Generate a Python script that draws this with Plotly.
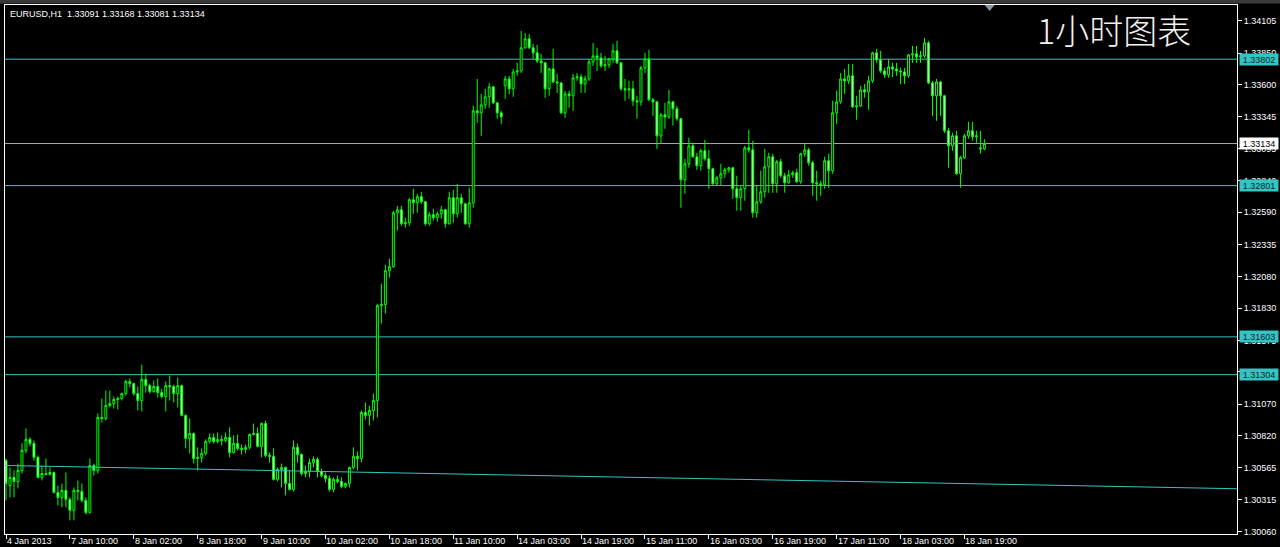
import plotly.graph_objects as go

# ---------------- data (EURUSD H1) ----------------
opens = [
    1.30624, 1.30426, 1.30490, 1.30458, 1.30545, 1.30704, 1.30791, 1.30759, 1.30649, 1.30490,
    1.30521, 1.30513, 1.30529, 1.30371, 1.30332, 1.30387, 1.30316, 1.30229, 1.30387, 1.30379,
    1.30308, 1.30213, 1.30584, 1.30545, 1.30965, 1.30957, 1.31059, 1.31075, 1.31107, 1.31115,
    1.31154, 1.31249, 1.31233, 1.31154, 1.31099, 1.31265, 1.31217, 1.31170, 1.31210, 1.31162,
    1.31131, 1.31217, 1.31210, 1.31154, 1.31217, 1.30981, 1.30799, 1.30838, 1.30640, 1.30649,
    1.30680, 1.30775, 1.30807, 1.30775, 1.30791, 1.30783, 1.30807, 1.30688, 1.30759, 1.30720,
    1.30712, 1.30728, 1.30830, 1.30838, 1.30736, 1.30917, 1.30664, 1.30657, 1.30474, 1.30553,
    1.30569, 1.30442, 1.30395, 1.30728, 1.30672, 1.30521, 1.30537, 1.30608, 1.30632, 1.30537,
    1.30505, 1.30482, 1.30395, 1.30474, 1.30458, 1.30419, 1.30442, 1.30569, 1.30657, 1.30640,
    1.31004, 1.30981, 1.31020, 1.31099, 1.31850, 1.31858, 1.32127, 1.32159, 1.32586, 1.32610,
    1.32499, 1.32507, 1.32689, 1.32665, 1.32713, 1.32673, 1.32499, 1.32570, 1.32547, 1.32578,
    1.32610, 1.32499, 1.32705, 1.32578, 1.32705, 1.32657, 1.32499, 1.32665, 1.33393, 1.33377,
    1.33440, 1.33504, 1.33583, 1.33456, 1.33377, 1.33591, 1.33646, 1.33567, 1.33701, 1.33709,
    1.33892, 1.33963, 1.33892, 1.33852, 1.33788, 1.33773, 1.33567, 1.33725, 1.33622, 1.33614,
    1.33377, 1.33527, 1.33512, 1.33654, 1.33662, 1.33606, 1.33646, 1.33781, 1.33828, 1.33812,
    1.33749, 1.33757, 1.33804, 1.33868, 1.33773, 1.33567, 1.33559, 1.33567, 1.33472, 1.33464,
    1.33733, 1.33804, 1.33480, 1.33464, 1.33195, 1.33361, 1.33345, 1.33464, 1.33409, 1.33330,
    1.32847, 1.32974, 1.33116, 1.33029, 1.32958, 1.33077, 1.33013, 1.32934, 1.32815, 1.32863,
    1.32895, 1.32926, 1.32942, 1.32776, 1.32705, 1.32776, 1.33100, 1.33084, 1.32586, 1.32673,
    1.32752, 1.32950, 1.33029, 1.32815, 1.32990, 1.32879, 1.32823, 1.32887, 1.32903, 1.32831,
    1.33053, 1.33084, 1.32982, 1.32823, 1.32815, 1.32807, 1.32997, 1.32918, 1.33377, 1.33464,
    1.33646, 1.33630, 1.33670, 1.33424, 1.33432, 1.33559, 1.33543, 1.33630, 1.33852, 1.33796,
    1.33709, 1.33678, 1.33741, 1.33725, 1.33709, 1.33701, 1.33670, 1.33836, 1.33844, 1.33820,
    1.33828, 1.33931, 1.33614, 1.33512, 1.33622, 1.33512, 1.33235, 1.33116, 1.33195, 1.32895,
    1.33021, 1.33195, 1.33235, 1.33188, 1.33100, 1.33091,
]
highs = [
    1.30640, 1.30569, 1.30545, 1.30600, 1.30759, 1.30878, 1.30807, 1.30783, 1.30664, 1.30584,
    1.30640, 1.30569, 1.30537, 1.30426, 1.30442, 1.30529, 1.30332, 1.30411, 1.30466, 1.30442,
    1.30332, 1.30640, 1.30600, 1.30996, 1.31115, 1.31178, 1.31178, 1.31131, 1.31131, 1.31162,
    1.31265, 1.31273, 1.31241, 1.31210, 1.31383, 1.31312, 1.31233, 1.31257, 1.31273, 1.31194,
    1.31249, 1.31296, 1.31225, 1.31281, 1.31225, 1.30989, 1.30957, 1.30846, 1.30728, 1.30720,
    1.30791, 1.30838, 1.30838, 1.30846, 1.30823, 1.30846, 1.30886, 1.30823, 1.30830, 1.30751,
    1.30751, 1.30838, 1.30917, 1.30886, 1.30925, 1.30941, 1.30688, 1.30720, 1.30569, 1.30600,
    1.30576, 1.30545, 1.30783, 1.30759, 1.30680, 1.30584, 1.30640, 1.30657, 1.30649, 1.30561,
    1.30529, 1.30505, 1.30490, 1.30505, 1.30490, 1.30450, 1.30576, 1.30728, 1.30696, 1.31020,
    1.31083, 1.31059, 1.31154, 1.31866, 1.32024, 1.32175, 1.32222, 1.32602, 1.32641, 1.32641,
    1.32547, 1.32705, 1.32776, 1.32736, 1.32752, 1.32681, 1.32594, 1.32618, 1.32594, 1.32641,
    1.32618, 1.32752, 1.32768, 1.32815, 1.32736, 1.32665, 1.32784, 1.33432, 1.33646, 1.33527,
    1.33567, 1.33614, 1.33591, 1.33464, 1.33393, 1.33670, 1.33670, 1.33725, 1.33773, 1.34026,
    1.34010, 1.34002, 1.33923, 1.33915, 1.33844, 1.33780, 1.33733, 1.33884, 1.33686, 1.33622,
    1.33551, 1.33551, 1.33686, 1.33693, 1.33686, 1.33670, 1.33804, 1.33931, 1.33892, 1.33852,
    1.33828, 1.33812, 1.33923, 1.33947, 1.33780, 1.33646, 1.33630, 1.33630, 1.33512, 1.33749,
    1.33852, 1.33876, 1.33496, 1.33472, 1.33377, 1.33456, 1.33559, 1.33472, 1.33432, 1.33337,
    1.33013, 1.33180, 1.33140, 1.33061, 1.33092, 1.33164, 1.33084, 1.32942, 1.32879, 1.32974,
    1.32942, 1.32950, 1.32950, 1.32879, 1.32799, 1.33116, 1.33243, 1.33156, 1.32799, 1.32918,
    1.33092, 1.33061, 1.33053, 1.33005, 1.33013, 1.32903, 1.32926, 1.32918, 1.32934, 1.33061,
    1.33132, 1.33100, 1.32997, 1.32918, 1.32839, 1.33029, 1.33053, 1.33472, 1.33551, 1.33693,
    1.33725, 1.33765, 1.33765, 1.33512, 1.33591, 1.33606, 1.33670, 1.33860, 1.33884, 1.33868,
    1.33733, 1.33804, 1.33773, 1.33773, 1.33733, 1.33733, 1.33844, 1.33907, 1.33907, 1.33868,
    1.33970, 1.33947, 1.33630, 1.33646, 1.33630, 1.33520, 1.33259, 1.33219, 1.33235, 1.33037,
    1.33211, 1.33306, 1.33306, 1.33235, 1.33235, 1.33168,
]
lows = [
    1.30308, 1.30332, 1.30332, 1.30403, 1.30521, 1.30680, 1.30736, 1.30624, 1.30482, 1.30466,
    1.30505, 1.30505, 1.30363, 1.30268, 1.30253, 1.30253, 1.30150, 1.30150, 1.30308, 1.30292,
    1.30197, 1.30205, 1.30505, 1.30521, 1.30925, 1.30941, 1.31044, 1.31036, 1.31028, 1.31099,
    1.31138, 1.31202, 1.31138, 1.31020, 1.31012, 1.31162, 1.31154, 1.31162, 1.31123, 1.31115,
    1.31012, 1.31099, 1.31083, 1.31044, 1.30973, 1.30720, 1.30680, 1.30600, 1.30545, 1.30608,
    1.30664, 1.30759, 1.30759, 1.30759, 1.30744, 1.30767, 1.30649, 1.30680, 1.30704, 1.30672,
    1.30680, 1.30712, 1.30823, 1.30728, 1.30649, 1.30649, 1.30608, 1.30466, 1.30458, 1.30411,
    1.30348, 1.30387, 1.30379, 1.30608, 1.30505, 1.30490, 1.30490, 1.30569, 1.30490, 1.30490,
    1.30450, 1.30379, 1.30371, 1.30442, 1.30403, 1.30403, 1.30411, 1.30553, 1.30545, 1.30608,
    1.30949, 1.30901, 1.30941, 1.30965, 1.31708, 1.31787, 1.32072, 1.32151, 1.32444, 1.32483,
    1.32468, 1.32483, 1.32578, 1.32586, 1.32657, 1.32483, 1.32483, 1.32523, 1.32515, 1.32539,
    1.32468, 1.32491, 1.32507, 1.32547, 1.32586, 1.32491, 1.32468, 1.32626, 1.33298, 1.33195,
    1.33409, 1.33417, 1.33448, 1.33330, 1.33290, 1.33488, 1.33527, 1.33504, 1.33670, 1.33693,
    1.33884, 1.33884, 1.33804, 1.33773, 1.33693, 1.33496, 1.33512, 1.33614, 1.33535, 1.33369,
    1.33337, 1.33417, 1.33393, 1.33630, 1.33535, 1.33535, 1.33630, 1.33749, 1.33709, 1.33733,
    1.33709, 1.33733, 1.33773, 1.33765, 1.33551, 1.33472, 1.33488, 1.33432, 1.33330, 1.33432,
    1.33693, 1.33472, 1.33353, 1.33092, 1.33132, 1.33251, 1.33330, 1.33275, 1.33314, 1.32626,
    1.32736, 1.32942, 1.33021, 1.32926, 1.32918, 1.32997, 1.32776, 1.32807, 1.32799, 1.32799,
    1.32863, 1.32903, 1.32697, 1.32602, 1.32602, 1.32681, 1.33061, 1.32547, 1.32547, 1.32657,
    1.32705, 1.32744, 1.32744, 1.32744, 1.32863, 1.32744, 1.32815, 1.32863, 1.32823, 1.32815,
    1.33029, 1.32958, 1.32720, 1.32681, 1.32720, 1.32776, 1.32784, 1.32895, 1.33290, 1.33448,
    1.33527, 1.33606, 1.33417, 1.33322, 1.33424, 1.33496, 1.33401, 1.33614, 1.33773, 1.33693,
    1.33654, 1.33654, 1.33662, 1.33670, 1.33606, 1.33606, 1.33654, 1.33773, 1.33773, 1.33773,
    1.33812, 1.33606, 1.33353, 1.33314, 1.33353, 1.33219, 1.32942, 1.33077, 1.32887, 1.32784,
    1.33013, 1.33172, 1.33156, 1.33140, 1.33053, 1.33081,
]
closes = [
    1.30442, 1.30490, 1.30458, 1.30545, 1.30704, 1.30791, 1.30759, 1.30649, 1.30490, 1.30521,
    1.30513, 1.30529, 1.30371, 1.30332, 1.30387, 1.30316, 1.30229, 1.30387, 1.30379, 1.30308,
    1.30213, 1.30584, 1.30545, 1.30965, 1.30957, 1.31059, 1.31075, 1.31107, 1.31115, 1.31154,
    1.31249, 1.31233, 1.31154, 1.31099, 1.31265, 1.31217, 1.31170, 1.31210, 1.31162, 1.31131,
    1.31217, 1.31210, 1.31154, 1.31217, 1.30981, 1.30799, 1.30838, 1.30640, 1.30649, 1.30680,
    1.30775, 1.30807, 1.30775, 1.30791, 1.30783, 1.30807, 1.30688, 1.30759, 1.30720, 1.30712,
    1.30728, 1.30830, 1.30838, 1.30736, 1.30917, 1.30664, 1.30657, 1.30474, 1.30553, 1.30569,
    1.30442, 1.30395, 1.30728, 1.30672, 1.30521, 1.30537, 1.30608, 1.30632, 1.30537, 1.30505,
    1.30482, 1.30395, 1.30474, 1.30458, 1.30419, 1.30442, 1.30569, 1.30657, 1.30640, 1.31004,
    1.30981, 1.31020, 1.31099, 1.31850, 1.31858, 1.32127, 1.32159, 1.32586, 1.32610, 1.32499,
    1.32507, 1.32689, 1.32665, 1.32713, 1.32673, 1.32499, 1.32570, 1.32547, 1.32578, 1.32610,
    1.32499, 1.32705, 1.32578, 1.32705, 1.32657, 1.32499, 1.32665, 1.33393, 1.33377, 1.33440,
    1.33504, 1.33583, 1.33456, 1.33377, 1.33345, 1.33646, 1.33567, 1.33701, 1.33709, 1.33892,
    1.33963, 1.33892, 1.33852, 1.33788, 1.33773, 1.33567, 1.33725, 1.33622, 1.33614, 1.33377,
    1.33527, 1.33512, 1.33654, 1.33662, 1.33606, 1.33646, 1.33781, 1.33828, 1.33812, 1.33749,
    1.33757, 1.33804, 1.33868, 1.33773, 1.33567, 1.33559, 1.33567, 1.33472, 1.33464, 1.33733,
    1.33804, 1.33480, 1.33464, 1.33195, 1.33361, 1.33345, 1.33464, 1.33409, 1.33330, 1.32847,
    1.32974, 1.33116, 1.33029, 1.32958, 1.33077, 1.33013, 1.32934, 1.32815, 1.32863, 1.32895,
    1.32926, 1.32942, 1.32776, 1.32705, 1.32776, 1.33100, 1.33084, 1.32586, 1.32673, 1.32752,
    1.32950, 1.33029, 1.32815, 1.32990, 1.32879, 1.32823, 1.32887, 1.32903, 1.32831, 1.33053,
    1.33084, 1.32982, 1.32823, 1.32815, 1.32807, 1.32997, 1.32918, 1.33377, 1.33464, 1.33646,
    1.33630, 1.33670, 1.33424, 1.33432, 1.33559, 1.33543, 1.33630, 1.33852, 1.33796, 1.33709,
    1.33678, 1.33741, 1.33725, 1.33709, 1.33701, 1.33670, 1.33836, 1.33844, 1.33820, 1.33828,
    1.33931, 1.33614, 1.33512, 1.33622, 1.33512, 1.33235, 1.33116, 1.33195, 1.32895, 1.33021,
    1.33195, 1.33235, 1.33188, 1.33195, 1.33092, 1.33134,
]
bar_index = list(range(len(closes)))

time_tick_bars = [0, 16, 32, 48, 64, 80, 96, 112, 128, 144, 160, 176, 192, 208, 224, 240]
time_tick_labels = ["4 Jan 2013", "7 Jan 10:00", "8 Jan 02:00", "8 Jan 18:00", "9 Jan 10:00",
                    "10 Jan 02:00", "10 Jan 18:00", "11 Jan 10:00", "14 Jan 03:00", "14 Jan 19:00",
                    "15 Jan 11:00", "16 Jan 03:00", "16 Jan 19:00", "17 Jan 11:00", "18 Jan 03:00",
                    "18 Jan 19:00"]

price_ticks = [1.30060, 1.30315, 1.30565, 1.30820, 1.31070, 1.31325, 1.31575, 1.31830, 1.32080,
               1.32335, 1.32590, 1.32840, 1.33095, 1.33345, 1.33600, 1.33850, 1.34105]
price_tick_labels = ["%.5f" % v for v in price_ticks]

level_prices = [1.33802, 1.32801, 1.31603, 1.31304]
current_price = 1.33134
trend_bars = [-1, 309]
trend_prices = [1.30585, 1.30400]

header = "EURUSD,H1  1.33091 1.33168 1.33081 1.33134"
title_text = "1小时图表"

y_range = [1.30042, 1.34231]
x_range = [-0.25, 308.25]

# ---------------- styles ----------------
CYAN = "#33c4c4"
GREEN = "#00ff00"
FONT = "Liberation Sans"

fig = go.Figure()

fig.add_trace(go.Scatter(
    x=trend_bars, y=trend_prices, mode="lines",
    line=dict(color=CYAN, width=1), hoverinfo="skip", showlegend=False))

fig.add_trace(go.Candlestick(
    x=bar_index, open=opens, high=highs, low=lows, close=closes,
    increasing=dict(line=dict(color=GREEN, width=1), fillcolor="#000000"),
    decreasing=dict(line=dict(color=GREEN, width=1), fillcolor="#c8ffc8"),
    whiskerwidth=0, showlegend=False, hoverinfo="skip"))

shapes = []
for p in level_prices:
    shapes.append(dict(type="line", xref="paper", x0=0, x1=1, yref="y", y0=p, y1=p,
                       line=dict(color=CYAN, width=1), layer="below"))
shapes.append(dict(type="line", xref="paper", x0=0, x1=1, yref="y", y0=current_price,
                   y1=current_price, line=dict(color="#a8a8a8", width=1), layer="below"))
# gray strip above frame
shapes.append(dict(type="rect", xref="paper", x0=-0.01, x1=1.05, yref="paper",
                   y0=1.0028, y1=1.02, fillcolor="#3a3a3a", line=dict(width=0)))
# chart-shift marker
shapes.append(dict(type="path", xref="x", xsizemode="pixel", xanchor=246.3,
                   yref="paper", ysizemode="pixel", yanchor=1,
                   path="M-5,0 L5,0 L0,-6 Z", fillcolor="#8a96a6", line=dict(width=0)))

annotations = []
for b, lab in zip(time_tick_bars, time_tick_labels):
    annotations.append(dict(x=b, xref="x", y=0, yref="paper", yanchor="top", xanchor="left",
                            yshift=-1, text=lab, showarrow=False, borderpad=0,
                            font=dict(family=FONT, size=9, color="#ffffff")))
for p in level_prices:
    annotations.append(dict(x=1, xref="paper", xanchor="left", xshift=2, y=p, yref="y",
                            yanchor="middle", text="%.5f" % p, showarrow=False,
                            bgcolor=CYAN, width=38, height=11, borderpad=0,
                            font=dict(family=FONT, size=9, color="#0a2828")))
annotations.append(dict(x=1, xref="paper", xanchor="left", xshift=2, y=current_price,
                        yref="y", yanchor="middle", text="%.5f" % current_price,
                        showarrow=False, bgcolor="#ffffff", width=38, height=11, borderpad=0,
                        font=dict(family=FONT, size=9, color="#000000")))
annotations.append(dict(x=0, xref="paper", xanchor="left", xshift=4, y=1, yref="paper",
                        yanchor="top", yshift=-3, text=header, showarrow=False, borderpad=0,
                        font=dict(family=FONT, size=9, color="#ffffff")))
annotations.append(dict(x=0.9003, xref="paper", xanchor="center", y=0.9528, yref="paper",
                        yanchor="middle", text=title_text, showarrow=False,
                        font=dict(family="Noto Sans CJK SC", size=34, color="#f2f2f2",
                                  weight=300)))

fig.update_layout(
    width=1280, height=547, autosize=False,
    margin=dict(l=4, r=42, t=4, b=13, pad=0),
    paper_bgcolor="#000000", plot_bgcolor="#000000",
    showlegend=False, shapes=shapes, annotations=annotations,
    xaxis=dict(range=x_range, showgrid=False, zeroline=False, rangeslider=dict(visible=False),
               showline=True, linecolor="#ffffff", linewidth=1, mirror=True,
               tickmode="array", tickvals=time_tick_bars, showticklabels=False,
               ticks="outside", ticklen=4, tickcolor="#ffffff", tickwidth=1),
    yaxis=dict(range=y_range, side="right", showgrid=False, zeroline=False,
               showline=True, linecolor="#ffffff", linewidth=1, mirror=True,
               tickmode="array", tickvals=price_ticks, ticktext=price_tick_labels,
               ticks="outside", ticklen=4, tickcolor="#ffffff", tickwidth=1,
               tickfont=dict(family=FONT, size=9, color="#ffffff")),
)

fig.write_html("out.html", config={"displayModeBar": False},
               post_script="document.body.style.margin='0';document.body.style.overflow='hidden';")
